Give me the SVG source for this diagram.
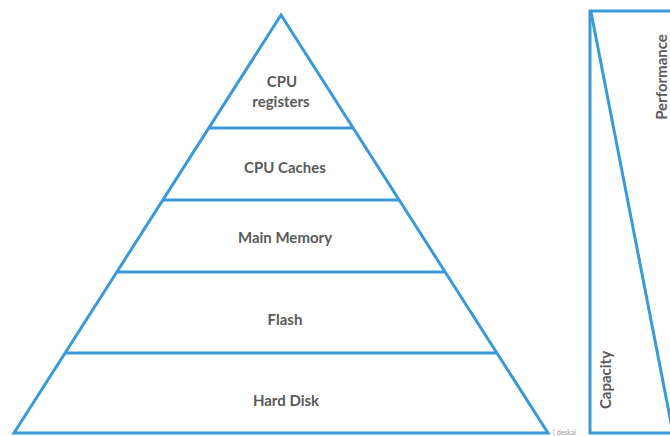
<svg xmlns="http://www.w3.org/2000/svg" width="670" height="436" viewBox="0 0 670 436">
<style>
.ln{fill:none;stroke:#3a9ad9;stroke-width:3;stroke-linejoin:miter}
.t{font-family:Lato,"Liberation Sans",sans-serif;font-size:15px;font-weight:bold;fill:#5a5a5a;text-anchor:middle}
</style>
<rect width="670" height="436" fill="#fff"/>
<g id="pyramid">
<polygon class="ln" points="281,15 14,433 548,433"/>
</g>
<g id="connectors">
<line class="ln" x1="209" y1="128" x2="353" y2="128"/>
<line class="ln" x1="163" y1="200" x2="399" y2="200"/>
<line class="ln" x1="118" y1="272" x2="444" y2="272"/>
<line class="ln" x1="66" y1="353" x2="496" y2="353"/>
</g>
<g id="registers"><text class="t" x="282" y="87">CPU</text><text class="t" x="281" y="107">registers</text></g>
<g id="caches"><text class="t" x="285" y="173">CPU Caches</text></g>
<g id="memory"><text class="t" x="285" y="243">Main Memory</text></g>
<g id="flash"><text class="t" x="285" y="325">Flash</text></g>
<g id="disk"><text class="t" x="286" y="406">Hard Disk</text></g>
<g id="scale">
<rect class="ln" x="590" y="11" width="90" height="422"/>
<line class="ln" x1="591" y1="12" x2="673" y2="433"/>
<text class="t" transform="translate(667,77) rotate(-90)">Performance</text>
<text class="t" transform="translate(611,380) rotate(-90)">Capacity</text>
</g>
<text x="553" y="435" font-family="Lato,'Liberation Sans',sans-serif" font-size="7" fill="#999">( deskal</text>
</svg>
